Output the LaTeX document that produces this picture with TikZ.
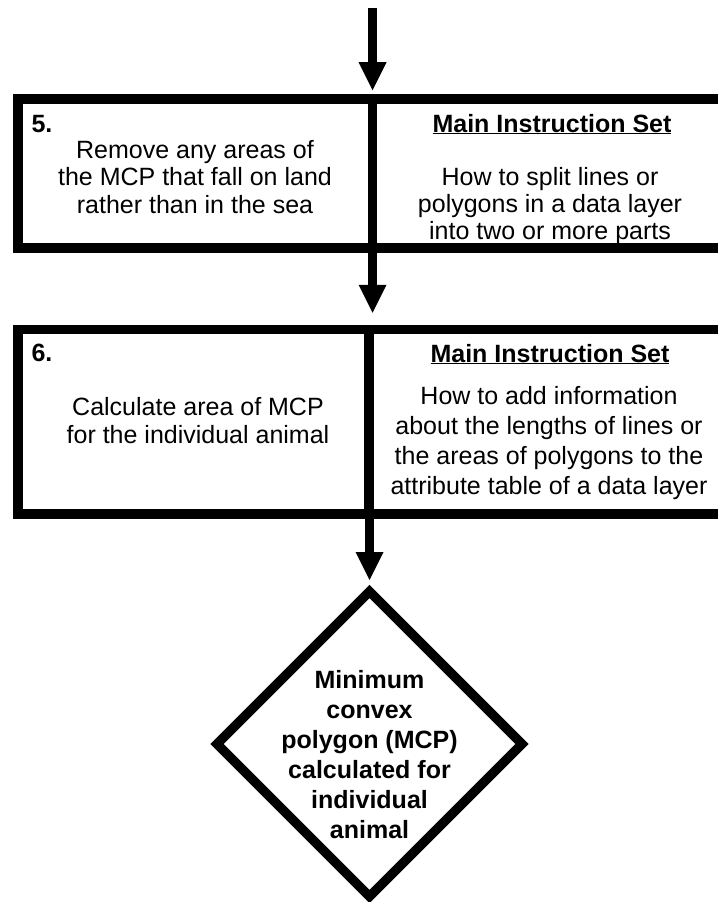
\documentclass[tikz,border=0pt]{standalone}
\usepackage{fontspec}
\setmainfont{Liberation Sans}
\usetikzlibrary{shapes.geometric,arrows.meta}
\newcommand\boxfont{\fontsize{25bp}{27.5bp}\selectfont}
\newcommand\wideboxfont{\fontsize{25bp}{30bp}\selectfont}
\tikzset{%
cell/.style={draw,line width=9.5bp,inner sep=0pt,minimum height=#1},
stepno/.style={anchor=base west,font=\boxfont\bfseries},
settitle/.style={anchor=base,font=\boxfont\bfseries},
body/.style={anchor=base,align=center,font=\boxfont},
flowarrow/.style={line width=9bp,-{Triangle[width=28bp,length=28bp,line width=0pt]}},
decision/.style={diamond,draw,line width=9.5bp,inner sep=0pt,outer sep=0pt,
                 minimum width=305bp,minimum height=305bp},
}

\begin{document}
\begin{tikzpicture}[x=1bp,y=-1bp]
\useasboundingbox (0,0) rectangle (718,902);

% step 5
\node[cell=149bp,minimum width=354.5bp] (box5l) at (195.25,173.5) {};
\node[cell=149bp,minimum width=350bp] (box5r) at (547.5,173.5) {};
\node[stepno] (no5) at (28,132) {5.};
\node[body] (task5) at (195,213) {Remove any areas of\\the MCP that fall on land\\rather than in the sea};
\node[settitle] (set5) at (552,132) {\underline{Main Instruction Set}};
\node[body,font=\fontsize{25bp}{27bp}\selectfont] (how5) at (550,239)
     {How to split lines or\\polygons in a data layer\\into two or more parts};

% step 6
\node[cell=184.5bp,minimum width=351bp] (box6l) at (193.5,421.75) {};
\node[cell=184.5bp,minimum width=353.5bp] (box6r) at (545.75,421.75) {};
\node[stepno] (no6) at (28,361) {6.};
\node[body,font=\fontsize{25bp}{28bp}\selectfont] (task6) at (198,443)
     {Calculate area of MCP\\for the individual animal};
\node[settitle] (set6) at (550,362) {\underline{Main Instruction Set}};
\node[body,font=\wideboxfont] (how6) at (549,494)
     {How to add information\\about the lengths of lines or\\the areas of polygons to the\\attribute table of a data layer};

% result
\node[decision] (mcp) at (369.5,744) {};
\node[body,font=\wideboxfont\bfseries] (mcptext) at (369.5,838)
     {Minimum\\convex\\polygon (MCP)\\calculated for\\individual\\animal};

% arrows
\coordinate (entry) at (372.5,8);
\draw[flowarrow,shorten >=4bp] (entry) -- (entry |- box5l.north);
\draw[flowarrow,shorten >=12bp] (entry |- box5l.south) -- (entry |- box6l.north);
\draw[flowarrow,shorten >=11.5bp] (mcp.north |- box6l.south) -- (mcp.north);
\end{tikzpicture}
\end{document}
